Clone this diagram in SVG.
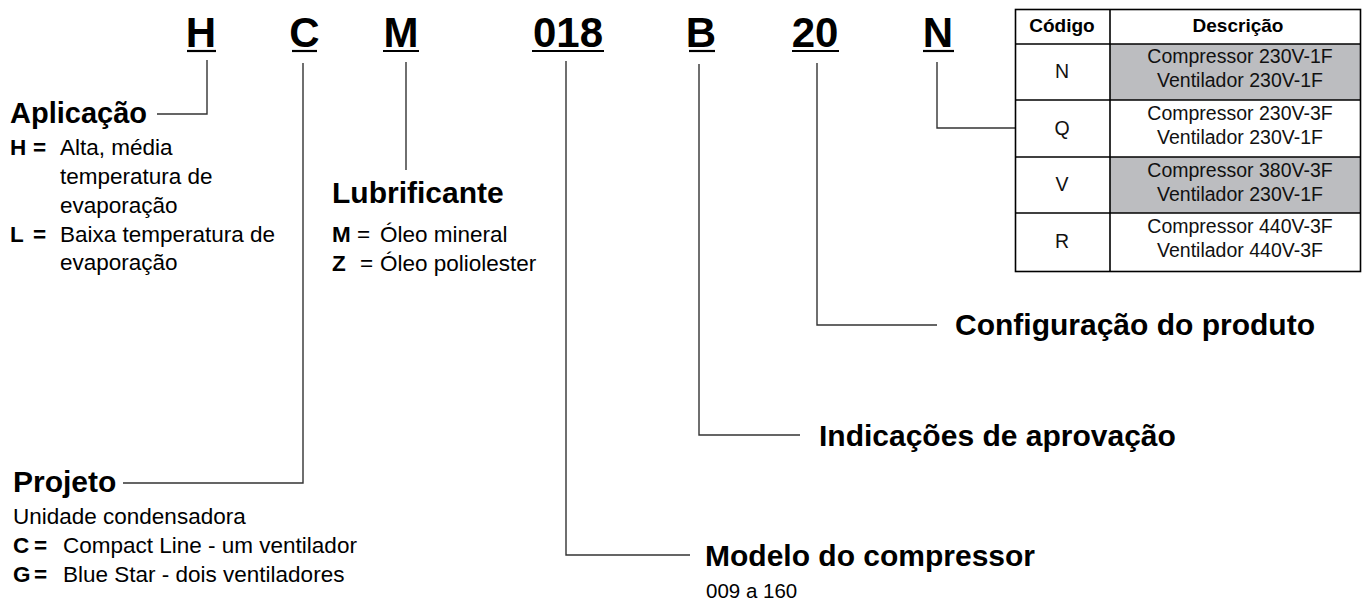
<svg xmlns="http://www.w3.org/2000/svg" width="1362" height="600" viewBox="0 0 1362 600">
<style>
text{font-family:"Liberation Sans",Arial,sans-serif;fill:#000}
.code{font-size:42px;font-weight:bold;text-anchor:middle}
.ul{stroke:#000;stroke-width:2.2}
.h{font-size:30px;font-weight:bold}
.b{font-size:22.5px}
.k{font-weight:bold}
.con{fill:none;stroke:#333;stroke-width:1.4}
.tb{fill:none;stroke:#000;stroke-width:1.6}
.th{font-size:19px;font-weight:bold;text-anchor:middle}
.td{font-size:19.5px;text-anchor:middle;fill:#111}
.gray{fill:#bcbdc0}
</style>
<rect width="1362" height="600" fill="#fff"/>
<g id="code">
<text class="code" x="201" y="47">H</text><line class="ul" x1="187" y1="51" x2="216" y2="51"/>
<text class="code" x="304.5" y="47">C</text><line class="ul" x1="292" y1="51" x2="317" y2="51"/>
<text class="code" x="401" y="47">M</text><line class="ul" x1="383" y1="51" x2="419" y2="51"/>
<text class="code" x="568" y="47">018</text><line class="ul" x1="532" y1="51" x2="604" y2="51"/>
<text class="code" x="701" y="47">B</text><line class="ul" x1="689" y1="51" x2="715" y2="51"/>
<text class="code" x="815" y="47">20</text><line class="ul" x1="792" y1="51" x2="839" y2="51"/>
<text class="code" x="938" y="47">N</text><line class="ul" x1="923" y1="51" x2="954" y2="51"/>
</g>
<g id="connectors">
<polyline class="con" points="207,60 207,114 157,114"/>
<polyline class="con" points="303,63 303,483 123,483"/>
<polyline class="con" points="406,62 406,170"/>
<polyline class="con" points="566,61 566,555 690,555"/>
<polyline class="con" points="699,64 699,435 800,435"/>
<polyline class="con" points="817,63 817,325 937,325"/>
<polyline class="con" points="937,62 937,128 1015,128"/>
</g>
<g id="aplicacao">
<text class="h" x="10" y="123" style="font-size:29px">Aplicação</text>
<text class="b k" x="10" y="155">H</text><text class="b k" x="33" y="155">=</text>
<text class="b" x="60" y="155">Alta, média</text>
<text class="b" x="60" y="184">temperatura de</text>
<text class="b" x="60" y="213">evaporação</text>
<text class="b k" x="10" y="242">L</text><text class="b k" x="33" y="242">=</text>
<text class="b" x="60" y="242">Baixa temperatura de</text>
<text class="b" x="60" y="270">evaporação</text>
</g>
<g id="lubrificante">
<text class="h" x="332" y="203">Lubrificante</text>
<text class="b k" x="332" y="242">M</text><text class="b" x="357" y="242">=</text>
<text class="b" x="380" y="242">Óleo mineral</text>
<text class="b k" x="332" y="271">Z</text><text class="b" x="360" y="271">=</text>
<text class="b" x="380" y="271">Óleo poliolester</text>
</g>
<g id="projeto">
<text class="h" x="13" y="492">Projeto</text>
<text class="b" x="13" y="524">Unidade condensadora</text>
<text class="b k" x="13" y="553">C</text><text class="b k" x="34" y="553">=</text>
<text class="b" x="63" y="553">Compact Line - um ventilador</text>
<text class="b k" x="13" y="582">G</text><text class="b k" x="34" y="582">=</text>
<text class="b" x="63" y="582">Blue Star - dois ventiladores</text>
</g>
<g id="modelo">
<text class="h" x="705" y="566">Modelo do compressor</text>
<text class="b" x="706" y="598" style="font-size:20.5px">009 a 160</text>
</g>
<g id="aprovacao">
<text class="h" x="819" y="446">Indicações de aprovação</text>
</g>
<g id="configuracao">
<text class="h" x="955" y="335">Configuração do produto</text>
</g>
<g id="tabela">
<rect class="gray" x="1110" y="44" width="251" height="56"/>
<rect class="gray" x="1110" y="157" width="251" height="56"/>
<rect class="tb" x="1015.5" y="9.5" width="345" height="262"/>
<line class="tb" x1="1110" y1="9.5" x2="1110" y2="271.5"/>
<line class="tb" x1="1015.5" y1="44" x2="1360.5" y2="44"/>
<line class="tb" x1="1015.5" y1="100" x2="1360.5" y2="100"/>
<line class="tb" x1="1015.5" y1="157" x2="1360.5" y2="157"/>
<line class="tb" x1="1015.5" y1="213" x2="1360.5" y2="213"/>
<text class="th" x="1062" y="32">Código</text>
<text class="th" x="1238" y="32">Descrição</text>
<text class="td" x="1062" y="78">N</text>
<text class="td" x="1240" y="63">Compressor 230V-1F</text>
<text class="td" x="1240" y="87">Ventilador 230V-1F</text>
<text class="td" x="1062" y="135">Q</text>
<text class="td" x="1240" y="120">Compressor 230V-3F</text>
<text class="td" x="1240" y="144">Ventilador 230V-1F</text>
<text class="td" x="1062" y="191">V</text>
<text class="td" x="1240" y="177">Compressor 380V-3F</text>
<text class="td" x="1240" y="201">Ventilador 230V-1F</text>
<text class="td" x="1062" y="248">R</text>
<text class="td" x="1240" y="233">Compressor 440V-3F</text>
<text class="td" x="1240" y="257">Ventilador 440V-3F</text>
</g>
</svg>
